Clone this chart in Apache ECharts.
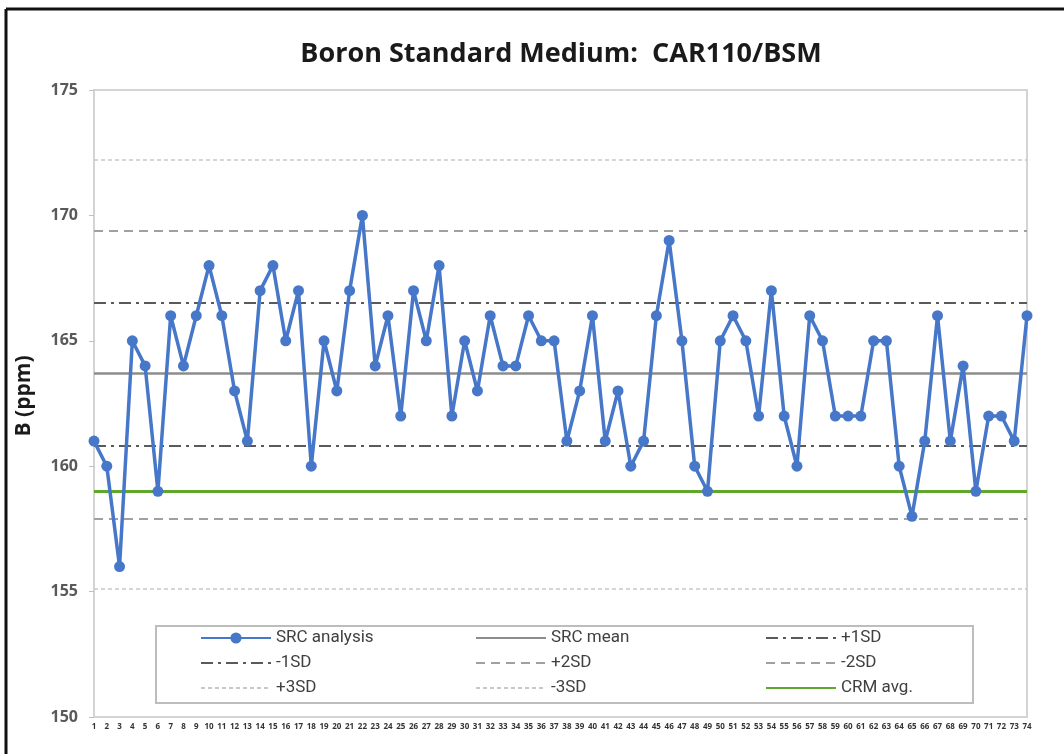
<!DOCTYPE html>
<html>
<head>
<meta charset="utf-8">
<title>Boron Standard Medium: CAR110/BSM</title>
<script src="https://cdn.jsdelivr.net/npm/echarts@6/dist/echarts.min.js"></script>
<style>
  html, body { margin: 0; padding: 0; background: #fff; }
  #chart { width: 1064px; height: 754px; }
</style>
</head>
<body>
<div id="chart"></div>
<script>
// Sample run numbers 1..74 (x axis categories)
const runs = ['1','2','3','4','5','6','7','8','9','10','11','12','13','14','15','16','17','18','19','20',
    '21','22','23','24','25','26','27','28','29','30','31','32','33','34','35','36','37','38','39','40',
    '41','42','43','44','45','46','47','48','49','50','51','52','53','54','55','56','57','58','59','60',
    '61','62','63','64','65','66','67','68','69','70','71','72','73','74'];

// SRC analysis results, B (ppm)
const srcAnalysis = [161, 160, 156, 165, 164, 159, 166, 164, 166, 168,
    166, 163, 161, 167, 168, 165, 167, 160, 165, 163,
    167, 170, 164, 166, 162, 167, 165, 168, 162, 165,
    163, 166, 164, 164, 166, 165, 165, 161, 163, 166,
    161, 163, 160, 161, 166, 169, 165, 160, 159, 165,
    166, 165, 162, 167, 162, 160, 166, 165, 162, 162,
    162, 165, 165, 160, 158, 161, 166, 161, 164, 159,
    162, 162, 161, 166];

// Reference levels
const refNames = ['SRC mean', '+1SD', '-1SD', '+2SD', '-2SD', '+3SD', '-3SD', 'CRM avg.'];
const refLevels = [163.7, 166.5, 160.8, 169.4, 157.9, 172.2, 155.1, 159.0];

const yTicks = [150, 155, 160, 165, 170, 175];

const FONT = '"Open Sans", "Noto Sans", "Liberation Sans", sans-serif';
const LEGEND_FONT = '"Liberation Sans Narrow", "Roboto", sans-serif';

const BLUE = '#4677c8';

// line looks for the reference lines
const REF_STYLES = {
    'SRC mean': { color: '#8c8c8c', width: 2.5, type: 'solid' },
    '+1SD': { color: '#5a5a5a', width: 2, type: [12, 5, 3, 5] },
    '-1SD': { color: '#5a5a5a', width: 2, type: [12, 5, 3, 5] },
    '+2SD': { color: '#a0a0a0', width: 2, type: [9, 6] },
    '-2SD': { color: '#a0a0a0', width: 2, type: [9, 6] },
    '+3SD': { color: '#c8c8c8', width: 1.5, type: [4, 3] },
    '-3SD': { color: '#c8c8c8', width: 1.5, type: [4, 3] },
    'CRM avg.': { color: '#5fa82c', width: 3, type: 'solid' }
};

const refSeries = refNames.map((name, i) => ({
    name: name,
    type: 'line',
    data: [],
    symbol: 'none',
    lineStyle: REF_STYLES[name],
    // no marker in the legend for the reference lines
    itemStyle: { color: REF_STYLES[name].color, opacity: 0 },
    z: 2,
    markLine: {
        silent: true,
        symbol: 'none',
        label: { show: false },
        lineStyle: { ...REF_STYLES[name], opacity: 1 },
        emphasis: { disabled: true },
        data: [{ yAxis: refLevels[i] }]
    }
}));

const legendCommon = {
    orient: 'vertical',
    top: 628,
    padding: 0,
    itemGap: 5,
    itemWidth: 70,
    itemHeight: 14,
    selectedMode: false,
    textStyle: { fontFamily: LEGEND_FONT, fontSize: 17, color: '#404040', lineHeight: 20 }
};

const chart = echarts.init(document.getElementById('chart'));
chart.setOption({
    animation: false,
    backgroundColor: '#fff',
    title: {
        text: 'Boron Standard Medium:  CAR110/BSM',
        left: 556,
        top: 36,
        textAlign: 'center',
        textStyle: { fontFamily: FONT, fontSize: 27, fontWeight: 'bold', color: '#1a1a1a' }
    },
    grid: {
        left: 94,
        right: 37,
        top: 90,
        bottom: 37,
        show: true,
        borderColor: '#d4d4d4',
        borderWidth: 2
    },
    legend: [
        { ...legendCommon, left: 200, data: ['SRC analysis', '-1SD', '+3SD'] },
        { ...legendCommon, left: 475, data: ['SRC mean', '+2SD', '-3SD'] },
        { ...legendCommon, left: 765, data: ['+1SD', '-2SD', 'CRM avg.'] }
    ],
    graphic: [
        {
            type: 'rect',
            z: 3,
            shape: { x: 156, y: 626, width: 817, height: 77 },
            style: { fill: '#fff', stroke: '#bdbdbd', lineWidth: 2 }
        },
        {
            type: 'text',
            x: 24,
            y: 396,
            rotation: Math.PI / 2,
            style: {
                text: 'B (ppm)',
                fontFamily: FONT,
                fontSize: 21,
                fontWeight: 'bold',
                fill: '#1a1a1a',
                align: 'center',
                verticalAlign: 'middle'
            }
        },
        { type: 'line', shape: { x1: 6, y1: 9, x2: 6, y2: 754 }, style: { stroke: '#111', lineWidth: 3 } },
        { type: 'line', shape: { x1: 6, y1: 9, x2: 1064, y2: 9 }, style: { stroke: '#111', lineWidth: 3 } }
    ],
    xAxis: {
        type: 'category',
        data: runs,
        boundaryGap: false,
        axisLine: { lineStyle: { color: '#d4d4d4', width: 2 } },
        axisTick: { show: false },
        axisLabel: {
            interval: 0,
            fontFamily: FONT,
            fontSize: 8,
            fontWeight: 'bold',
            color: '#333',
            margin: 6
        },
        splitLine: { show: false }
    },
    yAxis: {
        type: 'value',
        min: yTicks[0],
        max: yTicks[yTicks.length - 1],
        interval: 5,
        axisLine: { show: true, lineStyle: { color: '#d4d4d4', width: 2 } },
        axisTick: { show: true, length: 5, lineStyle: { color: '#c0c0c0' } },
        axisLabel: {
            fontFamily: FONT,
            fontSize: 16,
            fontWeight: 'bold',
            color: '#595959',
            margin: 16
        },
        splitLine: { show: false }
    },
    series: [
        ...refSeries,
        {
            name: 'SRC analysis',
            type: 'line',
            data: srcAnalysis,
            symbol: 'circle',
            symbolSize: 11,
            showAllSymbol: true,
            z: 5,
            lineStyle: { color: BLUE, width: 3.5 },
            itemStyle: { color: BLUE }
        }
    ]
});
</script>
</body>
</html>
